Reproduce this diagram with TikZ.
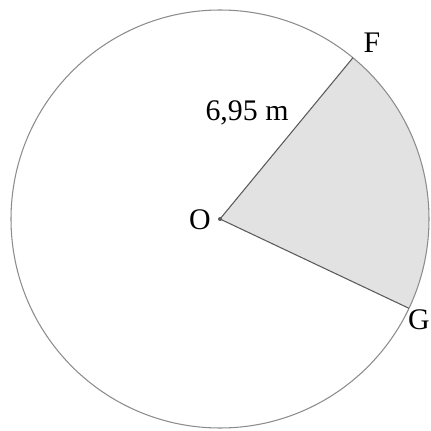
\documentclass[tikz,border=0pt]{standalone}
\usepackage{fontspec}
\setmainfont{Liberation Serif}
\usepackage{tikz}
\usetikzlibrary{calc}
\definecolor{rim}{HTML}{8C8C8C}
\definecolor{sector}{HTML}{E2E2E2}
\definecolor{ray}{HTML}{5A5A5A}

\begin{document}
\begin{tikzpicture}[font=\fontsize{17}{20}\selectfont]
  \useasboundingbox (0,0) rectangle (8.62,8.62);
  \coordinate (O) at (4.40,4.24);
  \coordinate (F) at ($(O)+(50.5:4.18)$);
  \coordinate (G) at ($(O)+(-25.3:4.18)$);
  \fill[sector] (O) -- (F) arc (50.5:-25.3:4.18) -- cycle;
  \draw[rim,line width=0.6pt] (O) circle (4.18);
  \draw[ray,line width=0.6pt] (O) -- (F);
  \draw[ray,line width=0.6pt] (O) -- (G);
  \fill[ray] (O) circle (0.04);
  \node (lO) at (4.00,4.22) {O};
  \node (lF) at (7.44,7.76) {F};
  \node[inner sep=0pt, anchor=east] (lG) at (8.60,2.22) {G};
  \node (len) at (4.94,6.36) {6,95 m};
\end{tikzpicture}
\end{document}
